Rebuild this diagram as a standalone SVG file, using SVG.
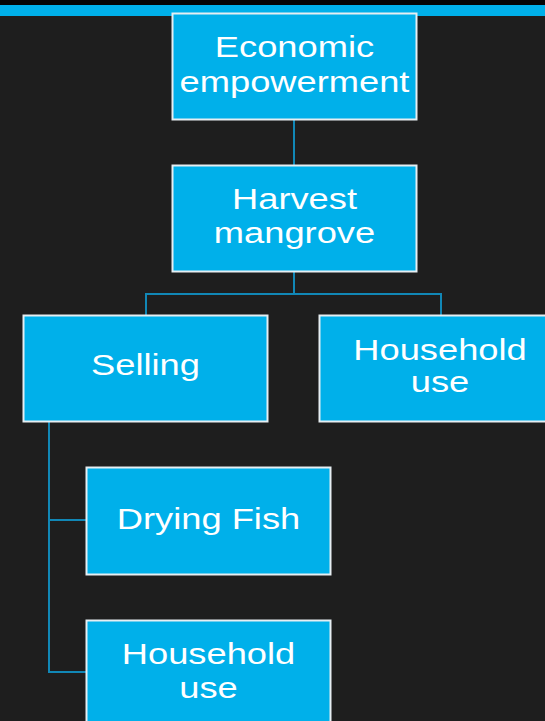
<svg xmlns="http://www.w3.org/2000/svg" width="545" height="721" viewBox="0 0 545 721">
  <style>
    .box { fill: #00b0ea; stroke: #e6eef2; stroke-width: 2; }
    .lbl { fill: #ffffff; font-family: "Liberation Sans", Arial, sans-serif; font-size: 30px; text-anchor: middle; }
    .conn { fill: none; stroke: #1187b6; stroke-width: 2; }
  </style>
  <rect x="0" y="0" width="545" height="721" fill="#1e1e1e"/>
  <rect x="0" y="0" width="545" height="5" fill="#050505"/>
  <rect x="0" y="5" width="545" height="11" fill="#00b0ea"/>
  <g id="connectors">
    <path class="conn" d="M294 120 V165"/>
    <path class="conn" d="M294 272 V294 M146 315 V294 H441 V315"/>
    <path class="conn" d="M49 422 V672 H86 M49 520 H86"/>
  </g>
  <g id="economic">
    <rect class="box" x="172.5" y="13.5" width="244" height="106"/>
    <text class="lbl" transform="translate(294.5 57) scale(1.21 1)">Economic</text>
    <text class="lbl" transform="translate(294.5 92) scale(1.21 1)">empowerment</text>
  </g>
  <g id="harvest">
    <rect class="box" x="172.5" y="165.5" width="244" height="106"/>
    <text class="lbl" transform="translate(294.5 209) scale(1.21 1)">Harvest</text>
    <text class="lbl" transform="translate(294.5 243) scale(1.21 1)">mangrove</text>
  </g>
  <g id="selling">
    <rect class="box" x="23.5" y="315.5" width="244" height="106"/>
    <text class="lbl" transform="translate(145.5 375) scale(1.21 1)">Selling</text>
  </g>
  <g id="household1">
    <rect class="box" x="319.5" y="315.5" width="244" height="106"/>
    <text class="lbl" transform="translate(440 360) scale(1.21 1)">Household</text>
    <text class="lbl" transform="translate(440 392) scale(1.21 1)">use</text>
  </g>
  <g id="drying">
    <rect class="box" x="86.5" y="467.5" width="244" height="107"/>
    <text class="lbl" transform="translate(208.5 529) scale(1.21 1)">Drying Fish</text>
  </g>
  <g id="household2">
    <rect class="box" x="86.5" y="620.5" width="244" height="107"/>
    <text class="lbl" transform="translate(208.5 664) scale(1.21 1)">Household</text>
    <text class="lbl" transform="translate(208.5 698) scale(1.21 1)">use</text>
  </g>
</svg>
